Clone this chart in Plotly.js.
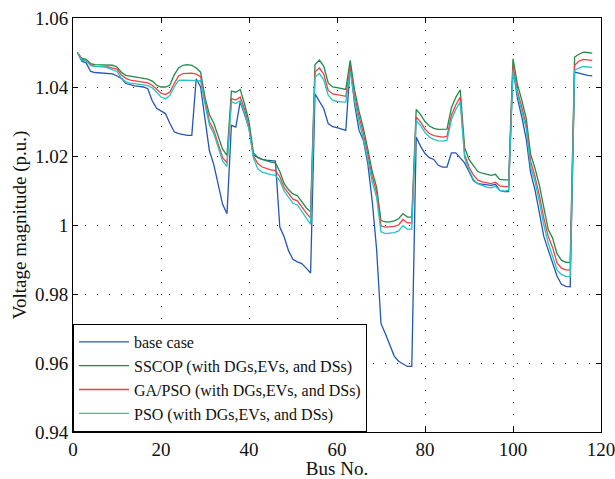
<!DOCTYPE html>
<html>
<head>
<meta charset="utf-8">
<script src="https://cdn.plot.ly/plotly-3.0.1.min.js"></script>
<style>html,body{margin:0;padding:0;background:#fff;}#chart{width:615px;height:479px;}</style>
</head>
<body>
<div id="chart"></div>
<script>
// Bus numbers 1..118
const buses = Array.from({length: 118}, (_, i) => i + 1);

const seriesNames = [
  "base case",
  "SSCOP (with DGs,EVs, and DSs)",
  "GA/PSO (with DGs,EVs, and DSs)",
  "PSO (with DGs,EVs, and DSs)"
];

const baseCase = [
  1.0500,1.0475,1.0470,1.0445,1.0442,1.0441,1.0441,1.0441,1.0438,1.0432,
  1.0425,1.0410,1.0406,1.0403,1.0402,1.0400,1.0395,1.0360,1.0338,1.0330,
  1.0323,1.0295,1.0270,1.0265,1.0262,1.0260,1.0260,1.0424,1.0400,1.0310,
  1.0215,1.0175,1.0120,1.0060,1.0033,1.0289,1.0284,1.0357,1.0320,1.0280,
  1.0202,1.0197,1.0190,1.0188,1.0186,1.0185,0.9994,0.9965,0.9925,0.9900,
  0.9893,0.9888,0.9875,0.9861,1.0380,1.0357,1.0337,1.0294,1.0285,1.0282,
  1.0278,1.0274,1.0463,1.0350,1.0275,1.0245,1.0178,1.0070,0.9930,0.9714,
  0.9685,0.9650,0.9620,0.9605,0.9597,0.9590,0.9590,1.0255,1.0228,1.0207,
  1.0195,1.0190,1.0173,1.0168,1.0168,1.0209,1.0209,1.0195,1.0180,1.0155,
  1.0129,1.0120,1.0118,1.0116,1.0115,1.0118,1.0100,1.0097,1.0097,1.0455,
  1.0368,1.0313,1.0250,1.0152,1.0102,1.0035,0.9967,0.9928,0.9890,0.9852,
  0.9828,0.9822,0.9821,1.0443,1.0440,1.0436,1.0434,1.0432
];

const sscop = [
  1.0500,1.0483,1.0480,1.0468,1.0465,1.0465,1.0465,1.0465,1.0463,1.0458,
  1.0443,1.0434,1.0431,1.0429,1.0427,1.0425,1.0423,1.0417,1.0405,1.0400,
  1.0400,1.0405,1.0435,1.0455,1.0463,1.0465,1.0463,1.0455,1.0443,1.0370,
  1.0320,1.0295,1.0255,1.0220,1.0202,1.0388,1.0385,1.0393,1.0350,1.0300,
  1.0210,1.0195,1.0190,1.0185,1.0182,1.0180,1.0155,1.0120,1.0102,1.0090,
  1.0085,1.0068,1.0050,1.0038,1.0465,1.0478,1.0460,1.0412,1.0400,1.0398,
  1.0395,1.0393,1.0477,1.0390,1.0330,1.0280,1.0220,1.0155,1.0110,1.0013,
  1.0009,1.0009,1.0012,1.0018,1.0033,1.0023,1.0023,1.0335,1.0320,1.0300,
  1.0287,1.0280,1.0277,1.0277,1.0278,1.0340,1.0370,1.0392,1.0225,1.0190,
  1.0172,1.0155,1.0150,1.0146,1.0144,1.0147,1.0132,1.0131,1.0131,1.0482,
  1.0408,1.0362,1.0310,1.0205,1.0164,1.0115,1.0055,0.9987,0.9962,0.9917,
  0.9898,0.9892,0.9891,1.0487,1.0495,1.0501,1.0500,1.0498
];

const gaPso = [
  1.0500,1.0480,1.0478,1.0465,1.0460,1.0460,1.0460,1.0458,1.0455,1.0452,
  1.0435,1.0425,1.0420,1.0418,1.0416,1.0414,1.0412,1.0405,1.0392,1.0382,
  1.0378,1.0385,1.0410,1.0432,1.0439,1.0440,1.0440,1.0437,1.0430,1.0360,
  1.0300,1.0275,1.0235,1.0195,1.0180,1.0366,1.0362,1.0371,1.0335,1.0285,
  1.0200,1.0178,1.0168,1.0163,1.0160,1.0158,1.0140,1.0108,1.0090,1.0075,
  1.0070,1.0052,1.0035,1.0020,1.0444,1.0455,1.0437,1.0390,1.0380,1.0378,
  1.0375,1.0373,1.0456,1.0375,1.0315,1.0265,1.0205,1.0140,1.0095,0.9997,
  0.9994,0.9994,0.9996,1.0000,1.0016,1.0006,1.0006,1.0313,1.0298,1.0278,
  1.0265,1.0259,1.0256,1.0255,1.0257,1.0318,1.0348,1.0371,1.0205,1.0168,
  1.0145,1.0130,1.0125,1.0122,1.0120,1.0124,1.0113,1.0111,1.0111,1.0463,
  1.0388,1.0342,1.0290,1.0185,1.0140,1.0085,1.0020,0.9967,0.9935,0.9890,
  0.9875,0.9870,0.9870,1.0463,1.0475,1.0480,1.0478,1.0477
];

const pso = [
  1.0500,1.0478,1.0476,1.0462,1.0460,1.0460,1.0460,1.0455,1.0450,1.0445,
  1.0425,1.0415,1.0411,1.0410,1.0408,1.0406,1.0404,1.0398,1.0385,1.0371,
  1.0366,1.0375,1.0400,1.0419,1.0420,1.0420,1.0419,1.0417,1.0418,1.0350,
  1.0290,1.0265,1.0225,1.0185,1.0170,1.0357,1.0352,1.0360,1.0325,1.0278,
  1.0195,1.0163,1.0153,1.0149,1.0146,1.0144,1.0128,1.0098,1.0080,1.0063,
  1.0058,1.0038,1.0020,1.0002,1.0429,1.0439,1.0420,1.0376,1.0362,1.0358,
  1.0357,1.0356,1.0445,1.0360,1.0300,1.0250,1.0190,1.0125,1.0080,0.9980,
  0.9975,0.9976,0.9978,0.9983,0.9998,0.9988,0.9988,1.0303,1.0288,1.0268,
  1.0255,1.0248,1.0244,1.0243,1.0245,1.0305,1.0335,1.0357,1.0195,1.0160,
  1.0132,1.0120,1.0114,1.0110,1.0108,1.0112,1.0100,1.0098,1.0100,1.0448,
  1.0378,1.0332,1.0280,1.0168,1.0126,1.0068,1.0000,0.9948,0.9912,0.9870,
  0.9857,0.9851,0.9850,1.0448,1.0455,1.0460,1.0458,1.0457
];

const xTicks = [0, 20, 40, 60, 80, 100, 120];
const yTicks = [0.94, 0.96, 0.98, 1, 1.02, 1.04, 1.06];
const yTickText = ["0.94", "0.96", "0.98", "1", "1.02", "1.04", "1.06"];

const colors = ["#2456b4", "#1f8c4a", "#f04040", "#22c4c8"];
const allSeries = [baseCase, sscop, gaPso, pso];

const traces = allSeries.map((ys, i) => ({
  x: buses,
  y: ys,
  type: "scatter",
  mode: "lines",
  name: seriesNames[i],
  line: {color: colors[i], width: 1.3}
}));

const fam = "Liberation Serif, Times New Roman, serif";
const font = {family: fam, size: 19, color: "#111"};
const gridStyle = {showgrid: true, gridcolor: "#222", griddash: "1px,11px", gridwidth: 1};

const layout = {
  width: 615, height: 479,
  margin: {l: 73, r: 14, t: 18, b: 47},
  paper_bgcolor: "#fff", plot_bgcolor: "#fff",
  font: font,
  showlegend: true,
  legend: {
    x: 0, y: 0, xanchor: "left", yanchor: "bottom",
    bgcolor: "#fff", bordercolor: "#000", borderwidth: 1,
    font: {family: fam, size: 16, color: "#111"},
    tracegroupgap: 0, itemwidth: 50
  },
  xaxis: Object.assign({
    range: [0, 120], tickmode: "array", tickvals: xTicks,
    ticks: "inside", ticklen: 5, tickcolor: "#000",
    showline: true, linecolor: "#000", linewidth: 1, mirror: "ticks",
    zeroline: false, ticklabeloverflow: "allow",
    title: {text: "Bus No.", font: {family: fam, size: 19, color: "#111"}, standoff: 3},
    tickfont: {family: fam, size: 19, color: "#111"}
  }, gridStyle),
  yaxis: Object.assign({
    range: [0.94, 1.06], tickmode: "array", tickvals: yTicks, ticktext: yTickText,
    ticks: "inside", ticklen: 5, tickcolor: "#000",
    showline: true, linecolor: "#000", linewidth: 1, mirror: "ticks",
    zeroline: false,
    title: {text: "Voltage magnitude (p.u.)", font: {family: fam, size: 19, color: "#111"}, standoff: 3},
    tickfont: {family: fam, size: 19, color: "#111"}
  }, gridStyle)
};

Plotly.newPlot("chart", traces, layout, {displayModeBar: false, staticPlot: true});
</script>
</body>
</html>
